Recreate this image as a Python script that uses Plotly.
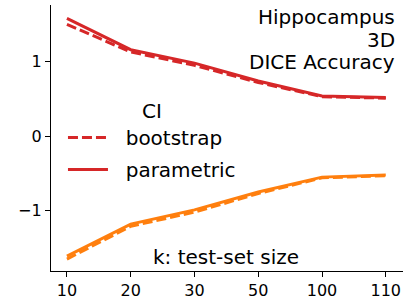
import plotly.graph_objects as go

categories = ["10", "20", "30", "50", "100", "110"]
red_parametric = [1.58, 1.16, 0.98, 0.74, 0.54, 0.52]
red_bootstrap = [1.50, 1.13, 0.95, 0.72, 0.53, 0.51]
orange_parametric = [-1.61, -1.18, -0.99, -0.75, -0.55, -0.52]
orange_bootstrap = [-1.65, -1.21, -1.02, -0.77, -0.56, -0.53]
tick_vals = [-1, 0, 1]
tick_text = ["\u22121", "0", "1"]
title_lines = ["Hippocampus", "3D", "DICE Accuracy"]

RED = "#d62728"
ORANGE = "#ff7f0e"
FONT = "DejaVu Sans"
DASH = "10px,4px"
LW = 3
x = list(range(len(categories)))

fig = go.Figure()
fig.add_trace(go.Scatter(x=x, y=red_bootstrap, mode="lines", name="\u00a0\u00a0bootstrap", legendgroup="a",
                         line=dict(color=RED, width=LW, dash=DASH)))
fig.add_trace(go.Scatter(x=x, y=red_parametric, mode="lines", name="\u00a0\u00a0parametric", legendgroup="b",
                         line=dict(color=RED, width=LW)))
fig.add_trace(go.Scatter(x=x, y=orange_bootstrap, mode="lines", showlegend=False,
                         line=dict(color=ORANGE, width=LW, dash=DASH)))
fig.add_trace(go.Scatter(x=x, y=orange_parametric, mode="lines", showlegend=False,
                         line=dict(color=ORANGE, width=LW)))

for line_text, ypos in zip(title_lines, [0.955, 0.870, 0.784]):
    fig.add_annotation(xref="paper", yref="paper", x=0.983, y=ypos, xanchor="right", yanchor="middle",
                       text=line_text, showarrow=False,
                       font=dict(family=FONT, size=20, color="black"))
fig.add_annotation(xref="paper", yref="paper", x=0.497, y=0.053, xanchor="center", yanchor="middle",
                   text="k: test-set size", showarrow=False,
                   font=dict(family=FONT, size=20, color="black"))

fig.update_layout(
    width=406, height=305,
    margin=dict(l=51, r=3, t=5, b=34),
    paper_bgcolor="white", plot_bgcolor="white",
    font=dict(family=FONT, size=16, color="black"),
    legend=dict(x=0.034, y=0.673, xanchor="left", yanchor="top",
                title=dict(text="CI", side="top center", font=dict(size=20)),
                font=dict(size=20), itemwidth=40, bgcolor="rgba(0,0,0,0)",
                traceorder="grouped", tracegroupgap=3),
    xaxis=dict(tickvals=x, ticktext=categories, range=[-0.25, 5.27],
               showline=True, linecolor="black", linewidth=1.2, ticks="outside",
               ticklen=5, tickcolor="black", showgrid=False, zeroline=False,
               tickfont=dict(size=16)),
    yaxis=dict(tickvals=tick_vals, ticktext=tick_text, range=[-1.81, 1.76],
               showline=True, linecolor="black", linewidth=1.2, ticks="outside",
               ticklen=5, tickcolor="black", showgrid=False, zeroline=False,
               tickfont=dict(size=16)),
)

fig.write_html("out.html", post_script="document.body.style.margin='0';",
               config={"displayModeBar": False})
